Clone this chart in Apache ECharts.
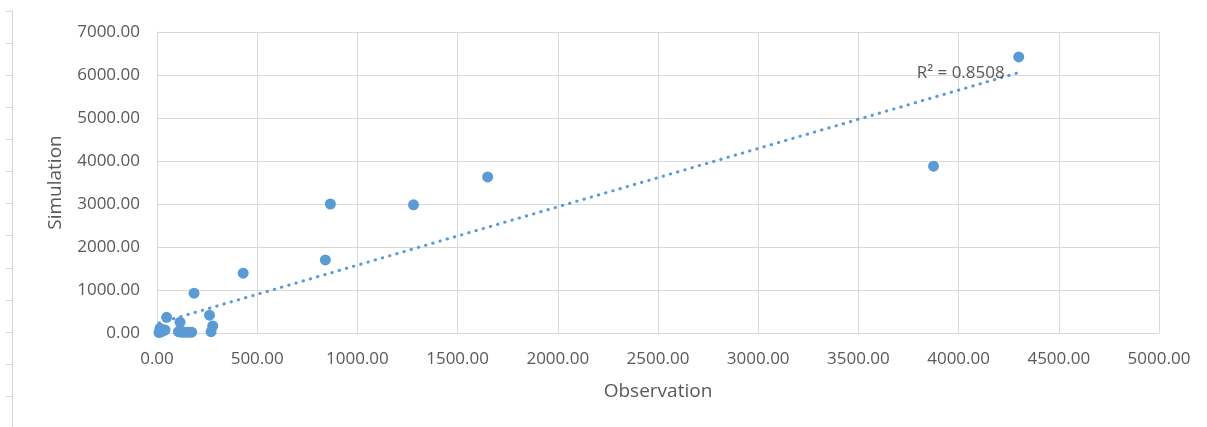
<!DOCTYPE html>
<html>
<head>
<meta charset="utf-8">
<script src="https://cdn.jsdelivr.net/npm/echarts@6/dist/echarts.min.js"></script>
<style>
  html, body { margin: 0; padding: 0; background: #fff; }
  #main { width: 1207px; height: 427px; }
</style>
</head>
<body>
<div id="main"></div>
<script>
// observation vs simulation
const obsX = [4300, 3875, 1650, 1280, 865, 840, 430, 185, 48, 115, 262, 278, 270, 23, 40, 107, 140, 173, 15, 155, 10, 125]
const simY = [6420, 3880, 3630, 2980, 3000, 1700, 1390, 925, 365, 250, 415, 165, 30, 30, 70, 30, 20, 20, 110, 15, 10, 15]
const r2Text = 'R² = 0.8508'
const xTicks = [0, 500, 1000, 1500, 2000, 2500, 3000, 3500, 4000, 4500, 5000]
const yTicks = [0, 1000, 2000, 3000, 4000, 5000, 6000, 7000]

const blue = '#5B9BD5'
const txt = '#595959'
const gridCol = '#D9D9D9'

// linear trendline (least squares)
const n = obsX.length
const mx = obsX.reduce((a, b) => a + b, 0) / n
const my = simY.reduce((a, b) => a + b, 0) / n
let sxy = 0, sxx = 0
for (let i = 0; i < n; i++) {
  sxy += (obsX[i] - mx) * (simY[i] - my)
  sxx += (obsX[i] - mx) * (obsX[i] - mx)
}
const slope = sxy / sxx
const icept = my - slope * mx
const x0 = Math.min(...obsX), x1 = Math.max(...obsX)
const trend = [
  [x0, icept + slope * x0],
  {
    value: [x1, icept + slope * x1],
    label: { show: true, position: 'left', distance: 14, offset: [0, 1], formatter: r2Text, color: txt, fontSize: 17, fontFamily: 'Open Sans' }
  }
]

const points = obsX.map((x, i) => [x, simY[i]])

// faint page ruler on the far left
const ruler = [{ type: 'line', shape: { x1: 12.5, y1: 10, x2: 12.5, y2: 427 }, style: { stroke: '#d6d6d6', lineWidth: 1 } }]
for (let y = 10.7; y < 427; y += 32.1) {
  ruler.push({ type: 'line', shape: { x1: 6, y1: Math.round(y) + 0.5, x2: 12.5, y2: Math.round(y) + 0.5 }, style: { stroke: '#d6d6d6', lineWidth: 1 } })
}

const chart = echarts.init(document.getElementById('main'))
chart.setOption({
  animation: false,
  textStyle: { fontFamily: 'Open Sans' },
  graphic: ruler,
  grid: { left: 157, right: 48, top: 32, bottom: 94, containLabel: false },
  xAxis: {
    type: 'value',
    min: xTicks[0], max: xTicks[xTicks.length - 1], interval: 500,
    name: 'Observation', nameLocation: 'middle', nameGap: 49,
    nameTextStyle: { color: txt, fontSize: 19, fontFamily: 'Open Sans' },
    axisLine: { show: true, lineStyle: { color: gridCol } },
    axisTick: { show: false },
    axisLabel: { color: txt, fontSize: 17, margin: 18, formatter: v => v.toFixed(2) },
    splitLine: { show: true, lineStyle: { color: gridCol, width: 1 } }
  },
  yAxis: {
    type: 'value',
    min: yTicks[0], max: yTicks[yTicks.length - 1], interval: 1000,
    name: 'Simulation', nameLocation: 'middle', nameGap: 92,
    nameTextStyle: { color: txt, fontSize: 19, fontFamily: 'Open Sans' },
    axisLine: { show: true, lineStyle: { color: gridCol } },
    axisTick: { show: false },
    axisLabel: { color: txt, fontSize: 17, margin: 17, formatter: v => v.toFixed(2) },
    splitLine: { show: true, lineStyle: { color: gridCol, width: 1 } }
  },
  series: [
    {
      name: 'trend',
      type: 'line',
      data: trend,
      symbol: 'circle',
      symbolSize: 0,
      showSymbol: true,
      z: 1,
      lineStyle: { color: blue, width: 3, type: [0.5, 7], cap: 'round' }
    },
    {
      name: 'points',
      type: 'scatter',
      data: points,
      symbolSize: 11,
      z: 2,
      itemStyle: { color: blue, opacity: 1 }
    }
  ]
})
</script>
</body>
</html>
